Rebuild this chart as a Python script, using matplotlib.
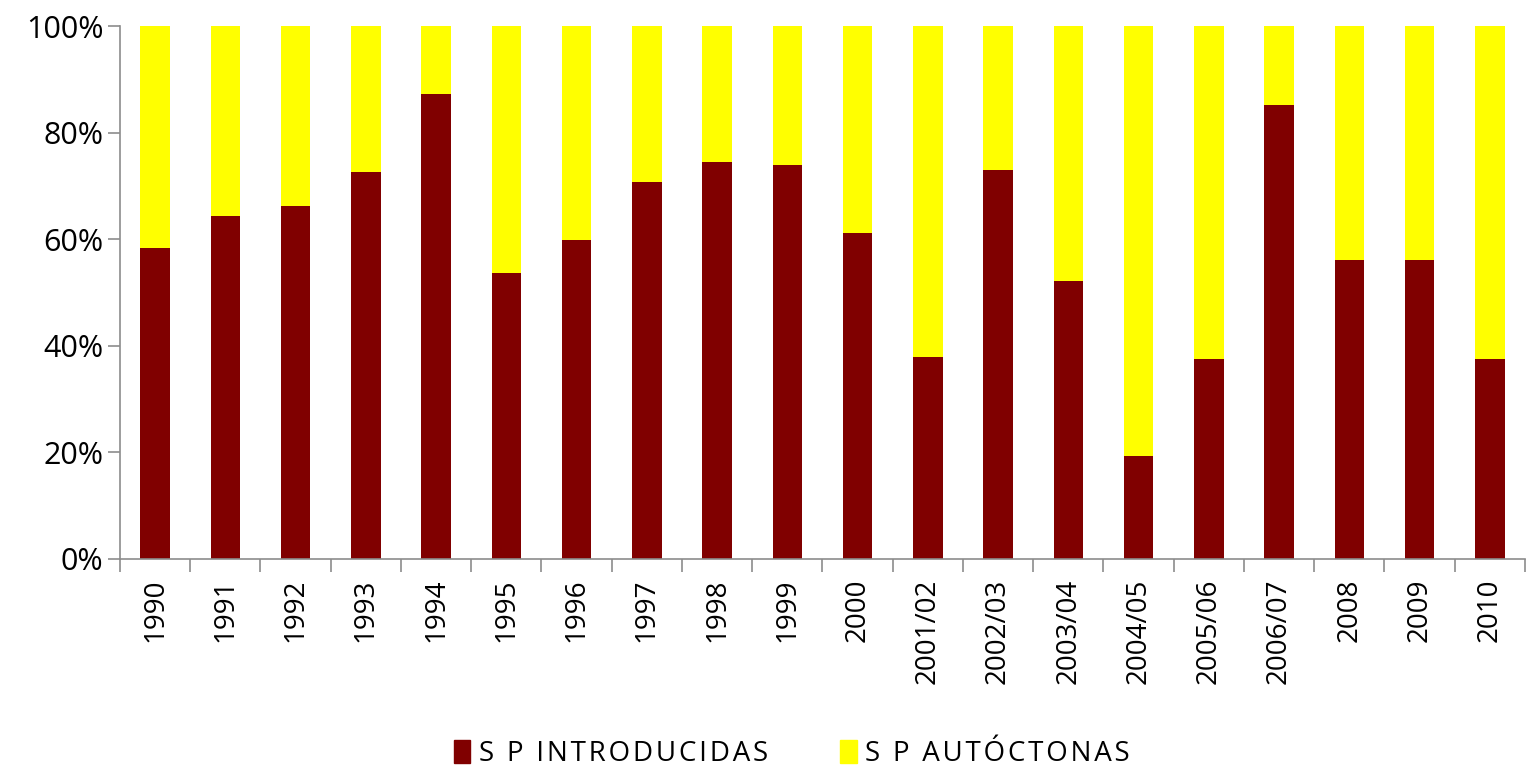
import numpy as np
import matplotlib
matplotlib.use("Agg")
import matplotlib.pyplot as plt
from matplotlib.patches import Patch

# categories and shares (percent)
years = ["1990", "1991", "1992", "1993", "1994", "1995", "1996", "1997", "1998", "1999",
         "2000", "2001/02", "2002/03", "2003/04", "2004/05", "2005/06", "2006/07",
         "2008", "2009", "2010"]
introducidas = [58.4, 64.4, 66.2, 72.6, 87.3, 53.6, 59.9, 70.8, 74.5, 74.0,
                61.2, 38.0, 73.0, 52.1, 19.3, 37.5, 85.2, 56.2, 56.2, 37.5]
autoctonas = [100 - v for v in introducidas]
series_names = ["S P INTRODUCIDAS", "S P AUTÓCTONAS"]

plt.rcParams['font.family'] = ['Open Sans', 'DejaVu Sans']


def spaced(s):
    # the legend text is letter-spaced in the original
    return "\u200a".join(s)


fig = plt.figure(figsize=(15.28, 7.71), dpi=100)
ax = fig.add_axes([0.0785, 0.275, 0.9195, 0.691])

x = np.arange(len(years))
w = 0.42
ax.bar(x, introducidas, w, color="#800000")
ax.bar(x, autoctonas, w, bottom=introducidas, color="#FFFF00")

ax.set_xlim(-0.5, len(years) - 0.5)
ax.set_ylim(0, 100)
ax.set_yticks(np.arange(0, 101, 20))
ax.set_yticklabels([f"{v}%" for v in range(0, 101, 20)], fontsize=22)

# category labels at bar centres, tick marks at boundaries
ax.set_xticks(x)
ax.set_xticklabels(years, rotation=90, fontsize=20)
ax.tick_params(axis="x", which="major", length=0, pad=14)
ax.set_xticks(np.arange(-0.5, len(years), 1), minor=True)
ax.tick_params(axis="x", which="minor", length=9, color="#8c8c8c", width=1.2)
ax.tick_params(axis="y", length=9, color="#8c8c8c", width=1.2, pad=3)

for s in ["top", "right"]:
    ax.spines[s].set_visible(False)
for s in ["left", "bottom"]:
    ax.spines[s].set_color("#8c8c8c")
    ax.spines[s].set_linewidth(1.2)

handles = [Patch(color="#800000"), Patch(color="#FFFF00")]
fig.legend(handles, [spaced(n) for n in series_names], loc="center",
           bbox_to_anchor=(0.518, 0.022), ncol=2, frameon=False, fontsize=20,
           handlelength=0.6, handleheight=0.9, handletextpad=0.3, columnspacing=2.6)

fig.savefig("out.png", dpi=100, facecolor="white")
